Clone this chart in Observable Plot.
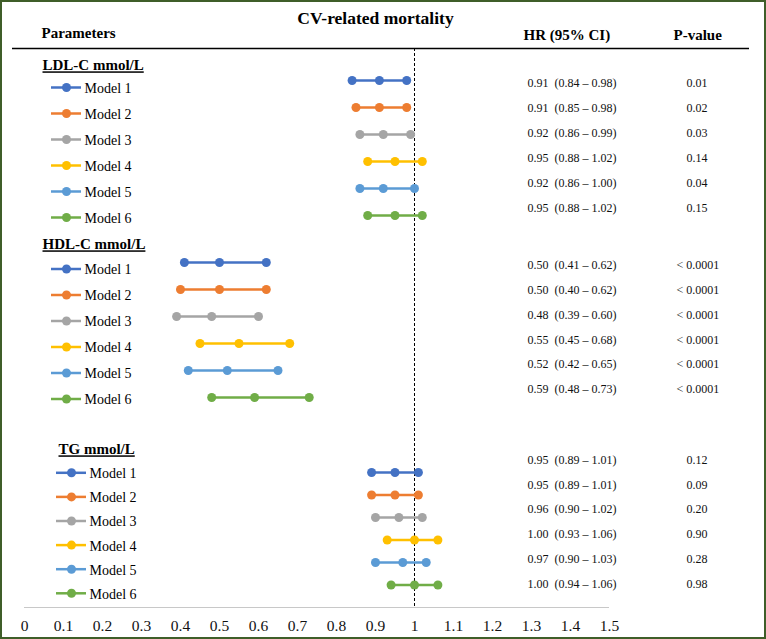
<!DOCTYPE html>
<html>
<head>
<meta charset="utf-8">
<script src="https://cdn.jsdelivr.net/npm/d3@7"></script>
<script src="https://cdn.jsdelivr.net/npm/@observablehq/plot@0.6"></script>
<style>
  html, body { margin: 0; padding: 0; background: #fff; }
  #chart svg { display: block; outline: 2px solid #3f5e29; outline-offset: -2px; }
</style>
</head>
<body>
<div id="chart"></div>
<script>
// ---------- data ----------
const title = "CV-related mortality";
const headers = ["Parameters", "HR (95% CI)", "P-value"];
const groups = ["LDL-C mmol/L", "HDL-C mmol/L", "TG mmol/L"];
const models = ["Model 1", "Model 2", "Model 3", "Model 4", "Model 5", "Model 6"];
const modelColors = ["#4472C4", "#ED7D31", "#A5A5A5", "#FFC000", "#5B9BD5", "#70AD47"];

const ldlHR = [0.91, 0.91, 0.92, 0.95, 0.92, 0.95];
const ldlLo = [0.84, 0.85, 0.86, 0.88, 0.86, 0.88];
const ldlHi = [0.98, 0.98, 0.99, 1.02, 1.00, 1.02];
const ldlP  = ["0.01", "0.02", "0.03", "0.14", "0.04", "0.15"];

const hdlHR = [0.50, 0.50, 0.48, 0.55, 0.52, 0.59];
const hdlLo = [0.41, 0.40, 0.39, 0.45, 0.42, 0.48];
const hdlHi = [0.62, 0.62, 0.60, 0.68, 0.65, 0.73];
const hdlP  = ["< 0.0001", "< 0.0001", "< 0.0001", "< 0.0001", "< 0.0001", "< 0.0001"];

const tgHR = [0.95, 0.95, 0.96, 1.00, 0.97, 1.00];
const tgLo = [0.89, 0.89, 0.90, 0.93, 0.90, 0.94];
const tgHi = [1.01, 1.01, 1.02, 1.06, 1.03, 1.06];
const tgP  = ["0.12", "0.09", "0.20", "0.90", "0.28", "0.98"];

const xTicks = [0, 0.1, 0.2, 0.3, 0.4, 0.5, 0.6, 0.7, 0.8, 0.9, 1, 1.1, 1.2, 1.3, 1.4, 1.5];
const refLine = 1;

// ---------- layout (pixels) ----------
const W = 766, H = 639;
const mL = 24, mR = 157, mB = 32;
const axisY = H - mB;
const X = px => (px - mL) / (W - mR - mL) * 1.5;   // pixel -> data x
const layout = [
  {label: 65,  labelX: 42, dot0: 80,  dotStep: 27,   leg0: 87,    legStep: 26,   txt0: 83,    txtStep: 25,   legX: [51, 66, 81, 84]},
  {label: 244, labelX: 42, dot0: 262, dotStep: 27,   leg0: 268.5, legStep: 26,   txt0: 264.5, txtStep: 24.9, legX: [51, 66, 81, 84]},
  {label: 449, labelX: 58, dot0: 472, dotStep: 22.5, leg0: 472.3, legStep: 24.1, txt0: 459.3, txtStep: 24.9, legX: [56, 71, 86, 89]}
];

// ---------- build rows ----------
const series = [
  [ldlHR, ldlLo, ldlHi, ldlP],
  [hdlHR, hdlLo, hdlHi, hdlP],
  [tgHR, tgLo, tgHi, tgP]
];
const fmt = d3.format(".2f");
const rows = [];
series.forEach(([hr, lo, hi, p], g) => {
  const L = layout[g];
  models.forEach((m, i) => {
    rows.push({
      group: groups[g], model: m, hr: hr[i], lo: lo[i], hi: hi[i], p: p[i],
      yDot: L.dot0 + i * L.dotStep,
      yLeg: L.leg0 + i * L.legStep,
      yTxt: L.txt0 + i * L.txtStep,
      legX: L.legX,
      hrText: `${fmt(hr[i])}\u2002(${fmt(lo[i])} \u2013 ${fmt(hi[i])})`
    });
  });
});
const groupRows = groups.map((g, i) => ({name: g, y: layout[i].label, x: layout[i].labelX}));
const font = "'Liberation Serif', 'Times New Roman', serif";

const plot = Plot.plot({
  width: W, height: H,
  marginLeft: mL, marginRight: mR, marginTop: 0, marginBottom: mB,
  style: {fontFamily: font, background: "#fff", color: "#000"},
  x: {domain: [0, 1.5]},
  y: {domain: [0, axisY], range: [0, axisY], axis: null},
  color: {type: "ordinal", domain: models, range: modelColors},
  marks: [
    // header rule
    Plot.ruleY([48], {x1: X(12), x2: X(749), stroke: "#000", strokeWidth: 1.5}),
    // axis baseline
    Plot.ruleY([axisY], {stroke: "#c8c8c8", strokeWidth: 1}),
    // reference line at HR = 1
    Plot.ruleX([refLine], {y1: 48, y2: axisY, stroke: "#000", strokeWidth: 1, strokeDasharray: "3,2"}),
    // headers
    Plot.text([title], {x: X(375), y: 18, text: d => d, fontSize: 17.5, fontWeight: "bold", fill: "#000"}),
    Plot.text([headers[0]], {x: X(41), y: 33, text: d => d, textAnchor: "start", fontSize: 15, fontWeight: "bold", fill: "#000"}),
    Plot.text([headers[1]], {x: X(523), y: 34.5, text: d => d, textAnchor: "start", fontSize: 15, fontWeight: "bold", fill: "#000"}),
    Plot.text([headers[2]], {x: X(673), y: 34.5, text: d => d, textAnchor: "start", fontSize: 15, fontWeight: "bold", fill: "#000"}),
    // group labels
    Plot.text(groupRows, {x: d => X(d.x), y: "y", text: "name", textAnchor: "start", fontSize: 15, fontWeight: "bold", fill: "#000"}),
    // legend entries
    Plot.ruleY(rows, {y: "yLeg", x1: d => X(d.legX[0]), x2: d => X(d.legX[2]), stroke: "model", strokeWidth: 2.5}),
    Plot.dot(rows, {x: d => X(d.legX[1]), y: "yLeg", r: 4.5, fill: "model", stroke: null}),
    Plot.text(rows, {x: d => X(d.legX[3]), y: d => d.yLeg + 1, text: "model", textAnchor: "start", fontSize: 14, fill: "#000"}),
    // CI lines and points
    Plot.ruleY(rows, {y: "yDot", x1: "lo", x2: "hi", stroke: "model", strokeWidth: 2.5}),
    Plot.dot(rows, {x: "lo", y: "yDot", r: 4.5, fill: "model", stroke: null}),
    Plot.dot(rows, {x: "hr", y: "yDot", r: 4.5, fill: "model", stroke: null}),
    Plot.dot(rows, {x: "hi", y: "yDot", r: 4.5, fill: "model", stroke: null}),
    // HR and P text
    Plot.text(rows, {x: X(527), y: "yTxt", text: "hrText", textAnchor: "start", fontSize: 12, fill: "#111"}),
    Plot.text(rows, {x: d => X(d.p.startsWith("<") ? 676 : 686), y: "yTxt", text: "p", textAnchor: "start", fontSize: 12, fill: "#111"}),
    // x axis
    Plot.axisX({ticks: xTicks, tickFormat: d => String(+d.toFixed(1)), tickSize: 0, tickPadding: 12, fontSize: 15.5, fill: "#111", anchor: "bottom"})
  ]
});

d3.select(plot).selectAll("text")
  .filter(function () { return groups.includes(this.textContent); })
  .attr("text-decoration", "underline");

document.getElementById("chart").appendChild(plot);
</script>
</body>
</html>
